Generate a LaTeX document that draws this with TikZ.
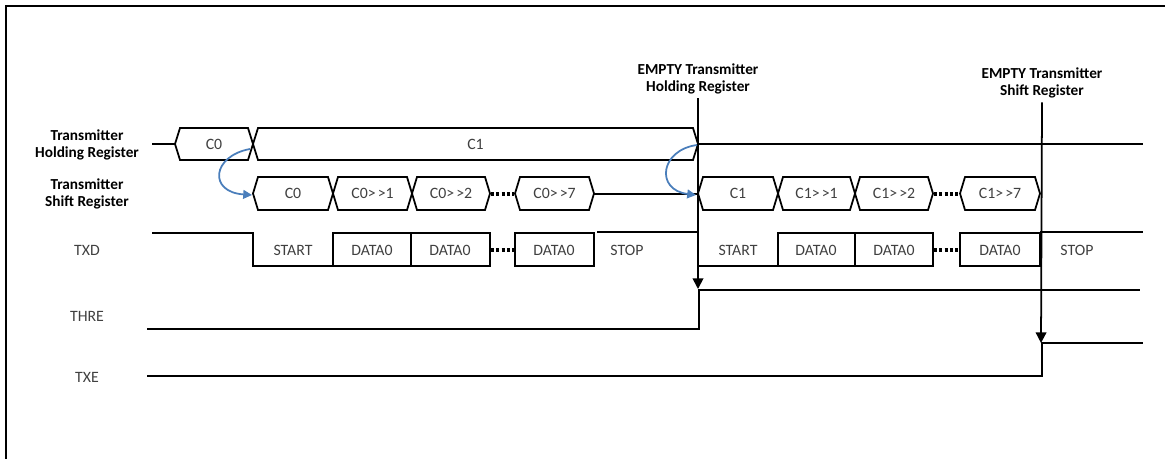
\documentclass[tikz,border=0pt]{standalone}
\usepackage{fontspec}
\setmainfont{Carlito}
\usetikzlibrary{arrows.meta}
\definecolor{curveblue}{HTML}{4A7EBB}
\definecolor{valgray}{HTML}{404040}
\newcommand{\bushex}[6]{%
  \draw[sig] (#2,{(#4+#5)/2}) -- ({#2+5},#4) -- ({#3-5},#4) -- (#3,{(#4+#5)/2}) -- ({#3-5},#5) -- ({#2+5},#5) -- cycle;
  \node[val] (#1) at ({(#2+#3)/2},{(#4+#5)/2}) {#6};}
\newcommand{\shr}{>\kern1.2pt>}
\begin{document}
\begin{tikzpicture}[x=0.02cm,y=-0.02cm,
  sig/.style={line width=1pt},
  val/.style={font=\fontsize{9}{10}\selectfont,text=valgray,inner sep=1pt},
  reglab/.style={font=\bfseries\fontsize{8.7}{10}\selectfont,align=center,inner sep=2pt},
  dots/.style={line width=2pt,dash pattern=on 1.8pt off 1.2pt},
  emptyarrow/.style={line width=1pt,-{Triangle[width=6pt,length=6pt]}},
  swaparrow/.style={line width=1pt,curveblue,-{Triangle[width=5pt,length=5pt]}}]
\useasboundingbox (0,0) rectangle (1165,459);
\draw[line width=1.3pt] (6,459) -- (6,6) -- (1165,6);

\node[reglab] (thr) at (87,145) {Transmitter\\Holding Register};
\node[reglab] (tsr) at (87,194) {Transmitter\\Shift Register};
\node[val] (txd) at (87,250) {TXD};
\node[val] (thre) at (87,316) {THRE};
\node[val] (txe) at (87,377) {TXE};

\draw[sig] (152,144) -- (175,144);
\bushex{thrc0}{175}{253}{128}{160}{C0}
\bushex{thrc1}{253}{698}{128}{160}{C1}
\draw[sig] (698,144) -- (1143,144);

\bushex{tsrc0}{253}{333}{177}{210}{C0}
\bushex{tsrc01}{333}{412}{177}{210}{C0\shr1}
\bushex{tsrc02}{412}{490}{177}{210}{C0\shr2}
\draw[dots] (491,194) -- (514,194);
\bushex{tsrc07}{515}{594}{177}{210}{C0\shr7}
\draw[sig] (594,194) -- (698,194);
\bushex{tsrc1}{698}{778}{177}{210}{C1}
\bushex{tsrc11}{778}{855}{177}{210}{C1\shr1}
\bushex{tsrc12}{855}{933}{177}{210}{C1\shr2}
\draw[dots] (934,194) -- (959,194);
\bushex{tsrc17}{960}{1040}{177}{210}{C1\shr7}

\draw[sig] (152,233) -- (253,233) -- (253,266) -- (333,266);
\node[val] (sta0) at (293,250) {START};
\draw[sig] (333,233) rectangle (411,266);
\node[val] (d00) at (372,250) {DATA0};
\draw[sig] (411,233) rectangle (490,266);
\node[val] (d01) at (450,250) {DATA0};
\draw[dots] (491,250) -- (514,250);
\draw[sig] (515,233) rectangle (594,266);
\node[val] (d07) at (554,250) {DATA0};
\draw[sig] (597,232) -- (698,232) -- (698,266) -- (778,266);
\node[val] (stp0) at (627,250) {STOP};
\node[val] (sta1) at (738,250) {START};
\draw[sig] (778,233) rectangle (855,266);
\node[val] (d10) at (816,250) {DATA0};
\draw[sig] (855,233) rectangle (933,266);
\node[val] (d11) at (894,250) {DATA0};
\draw[dots] (934,250) -- (959,250);
\draw[sig] (960,233) rectangle (1040,266);
\node[val] (d17) at (1000,250) {DATA0};
\draw[sig] (1040,232) -- (1143,232);
\node[val] (stp1) at (1077,250) {STOP};

\draw[sig] (147,329) -- (699,329) -- (699,290) -- (1140,290);
\draw[sig] (147,376) -- (1042,376) -- (1042,343) -- (1143,343);

\node[reglab] (ethr) at (698,79) {EMPTY Transmitter\\Holding Register};
\node[reglab] (etsr) at (1042,83) {EMPTY Transmitter\\Shift Register};
\coordinate (thretip) at (698,289);
\coordinate (txetip) at (1041,343);
\draw[emptyarrow] (ethr.south) -- (thretip);
\draw[emptyarrow] (etsr.south) -- (txetip);

\coordinate (out0) at (250,149);
\coordinate (in0) at (252,195);
\coordinate (out1) at (697,145);
\coordinate (in1) at (696,195);
\draw[swaparrow] (out0) .. controls (212,156) and (208,192) .. (in0);
\draw[swaparrow] (out1) .. controls (660,150) and (655,190) .. (in1);
\end{tikzpicture}
\end{document}
